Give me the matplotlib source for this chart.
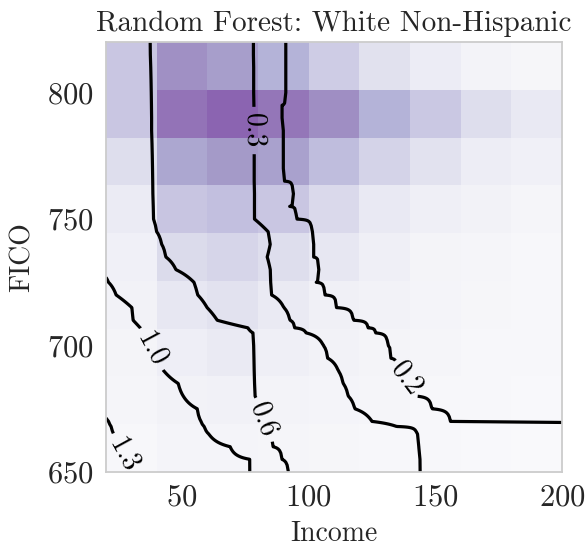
import numpy as np
import matplotlib
matplotlib.use("Agg")
import matplotlib.pyplot as plt
from matplotlib.colors import LinearSegmentedColormap

# ---------------- data ----------------
income_edges = [20, 40, 60, 80, 100, 120, 140, 160, 180, 200]
fico_edges = list(np.linspace(650, 820, 10))

# heatmap intensities, top row (FICO ~800-820) first
density_rows = [
    [0.45, 0.79, 0.74, 0.60, 0.41, 0.26, 0.16, 0.08, 0.04],
    [0.45, 0.90, 1.00, 0.88, 0.80, 0.60, 0.44, 0.28, 0.19],
    [0.28, 0.68, 0.76, 0.72, 0.52, 0.36, 0.25, 0.15, 0.11],
    [0.17, 0.46, 0.50, 0.45, 0.32, 0.19, 0.13, 0.09, 0.05],
    [0.11, 0.31, 0.35, 0.28, 0.20, 0.13, 0.07, 0.05, 0.03],
    [0.09, 0.20, 0.25, 0.18, 0.12, 0.09, 0.06, 0.04, 0.02],
    [0.07, 0.14, 0.18, 0.13, 0.09, 0.07, 0.05, 0.03, 0.02],
    [0.05, 0.09, 0.10, 0.08, 0.06, 0.05, 0.03, 0.02, 0.01],
    [0.03, 0.06, 0.06, 0.05, 0.04, 0.03, 0.02, 0.01, 0.00],
]

# contour surface: for each FICO row, income where each level is crossed
contour_levels = [1.3, 1.0, 0.6, 0.3, 0.2]
fico_rows = [650, 655, 660, 665, 668, 670, 675, 680, 685, 690, 695, 700, 705, 707,
             710, 715, 720, 725, 730, 735, 740, 745, 750, 755, 760, 765, 770, 775,
             780, 785, 790, 795, 800, 805, 810, 815, 820]
cross_13 = [31, 28, 25.5, 23, 22, 21, 18, 15, 12, 9, 9, 9, 9, 9,
            9, 9, 9, 9, 5, 3, 1, 0, 0, 0, 0, 0, 0, 0,
            0, 0, 0, 0, 0, 0, 0, 0, 0]
cross_10 = [76.9, 76.9, 69, 60.6, 58.8, 57.5, 56, 50.5, 48.5, 42.8, 39.8, 37, 34.5, 33.5,
            30.7, 30.2, 24, 21, 17, 14, 11, 8, 8, 8, 8, 8, 8, 8,
            8, 8, 8, 8, 8, 8, 8, 8, 8]
cross_06 = [92, 89.5, 85.9, 84.1, 83, 82.3, 80.5, 78.8, 78.6, 78.5, 78.4, 78.3, 78, 76,
            63.9, 59.9, 56.2, 54.7, 47.6, 43.6, 42, 40, 38.7, 38.6, 38.5, 38.4, 38.3, 38.2,
            38.1, 38, 38, 37.9, 37.8, 37.7, 37.6, 37.5, 37.4]
cross_03 = [144, 143.7, 143.3, 142.8, 134.7, 125, 118.2, 115.6, 113.6, 111.7, 107.5, 105.8, 99, 94.5,
            92.6, 90.2, 85.3, 85, 84.8, 83.6, 84.8, 84, 78.6, 78.6, 78.6, 78.5, 78.5, 78.5,
            78.5, 78.4, 78.4, 78.4, 78.3, 78.3, 78.3, 78.2, 78.2]
cross_02 = [350, 350, 350, 350, 350, 156, 148.6, 142.5, 138.7, 135, 132.3, 131.3, 126.4, 123.5,
            117.6, 111, 106.3, 103, 104, 101.8, 101.8, 101.3, 95.1, 92.5, 93.8, 90.3, 90, 90,
            89.9, 89.9, 89.5, 89.5, 90.7, 90.7, 90.7, 90.7, 90.7]

# label anchor points (income, FICO)
label_spots = [(78.2, 785), (82.0, 670.5), (141.2, 687.5), (37.4, 698.2), (27.3, 657.0)]

title = "Random Forest: White Non-Hispanic"
xlabel = "Income"
ylabel = "FICO"
xticks = [50, 100, 150, 200]
yticks = [650, 700, 750, 800]

# ---------------- style ----------------
plt.rcParams["font.family"] = ["cmr10", "DejaVu Serif"]
plt.rcParams["mathtext.fontset"] = "cm"
plt.rcParams["axes.unicode_minus"] = False
plt.rcParams["axes.formatter.use_mathtext"] = True
text_col = "#262626"

cmap = LinearSegmentedColormap.from_list(
    "lav",
    [(0.0, "#f9f9fb"), (0.15, "#ededf5"), (0.30, "#dcdcec"), (0.45, "#c9c6e2"),
     (0.60, "#b4b3d8"), (0.75, "#a69dca"), (0.87, "#9578b9"), (1.0, "#8b64b1")])

fig = plt.figure(figsize=(5.87, 5.47), dpi=100)
ax = fig.add_axes([106 / 587, 1 - 472 / 547, 456 / 587, 430 / 547])

dens = np.array(density_rows)[::-1]
ax.pcolormesh(income_edges, fico_edges, dens, cmap=cmap, vmin=0, vmax=1,
              shading="flat", edgecolors="face", linewidth=0)

# build contour surface
inc_grid = np.linspace(20, 200, 361)
Z = np.zeros((len(fico_rows), inc_grid.size))
for i in range(len(fico_rows)):
    xp = [-100, cross_13[i], cross_10[i], cross_06[i], cross_03[i], cross_02[i], 400]
    fp = [2.0] + contour_levels + [0.1]
    Z[i] = np.interp(inc_grid, xp, fp)

cs = ax.contour(inc_grid, fico_rows, Z, levels=sorted(contour_levels),
                colors="k", linewidths=2.3)
ax.clabel(cs, fmt="%.1f", fontsize=20, inline=True, inline_spacing=6,
          manual=label_spots)

ax.set_xlim(20, 200)
ax.set_ylim(650, 820)
ax.set_xticks(xticks)
ax.set_yticks(yticks)
ax.tick_params(length=0, labelsize=22, colors=text_col, pad=9)
ax.set_xlabel(xlabel, fontsize=20, color=text_col, labelpad=6)
ax.set_ylabel(ylabel, fontsize=20, color=text_col, labelpad=8)
ax.set_title(title, fontsize=21, color=text_col, pad=8)
for s in ax.spines.values():
    s.set_color("#cccccc")
    s.set_linewidth(1.3)

fig.savefig("out.png", dpi=100)
